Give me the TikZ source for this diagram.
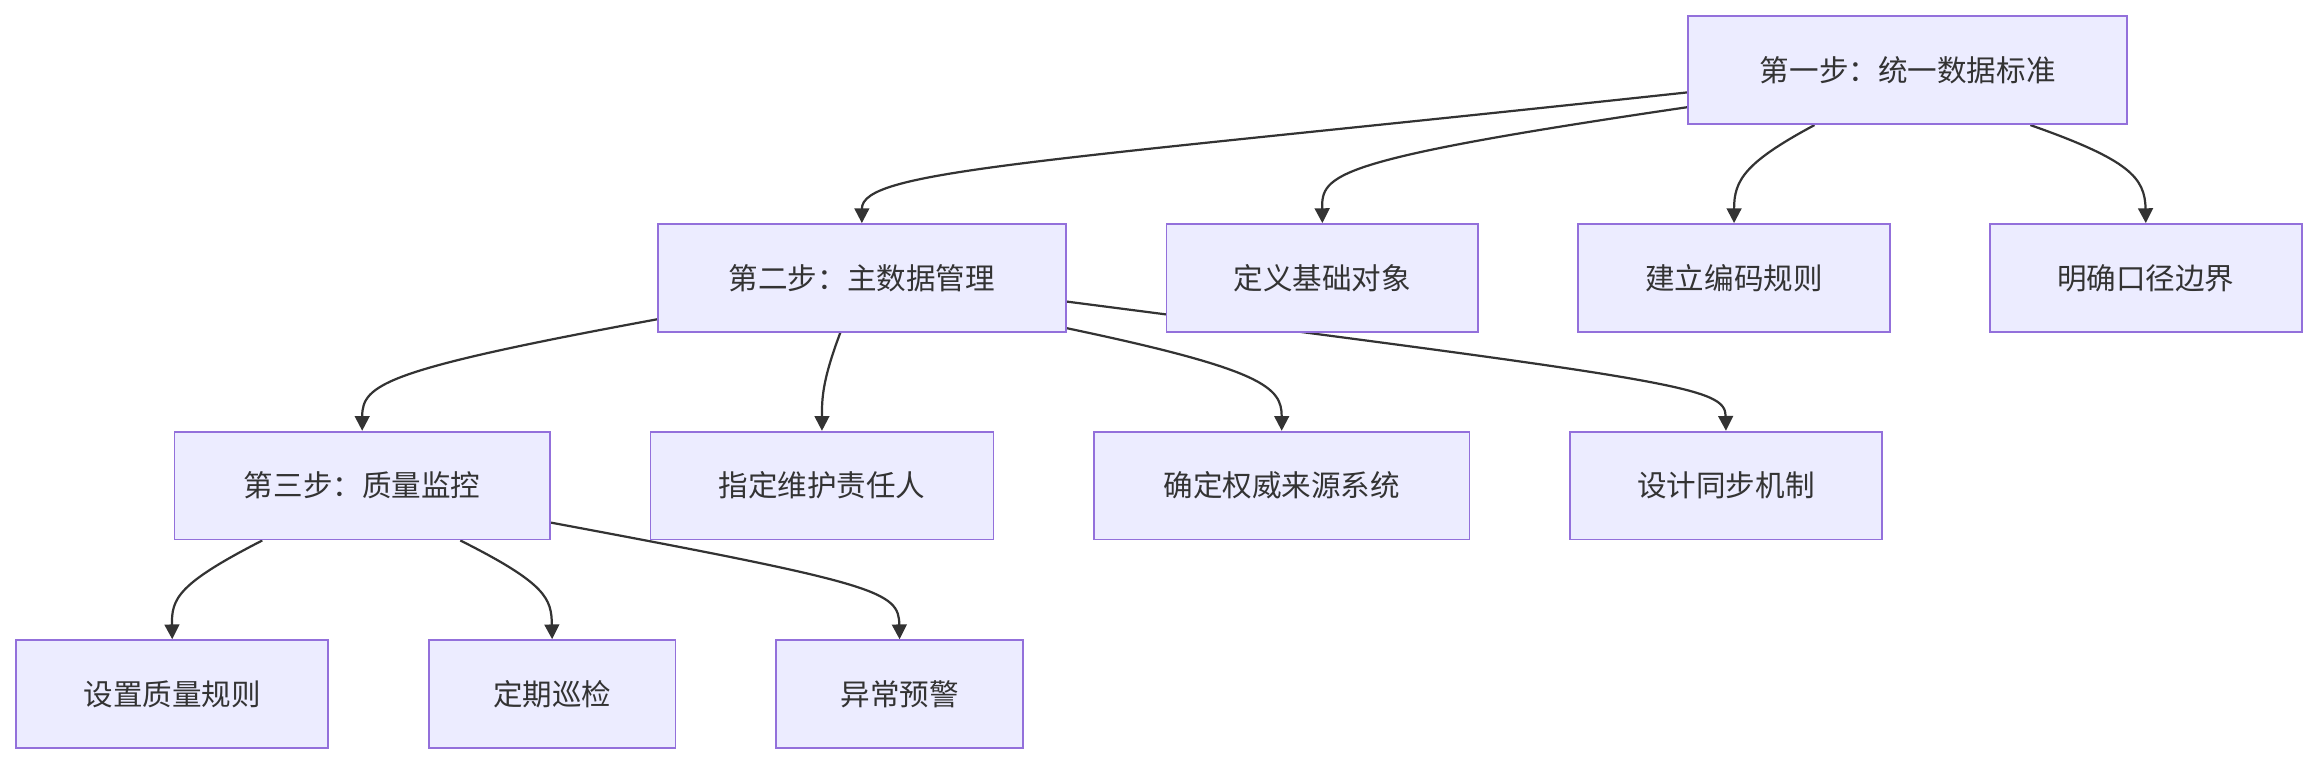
\documentclass[tikz,border=0pt]{standalone}
\usepackage{fontspec}
\newfontfamily\cjk{Noto Sans CJK SC}
\usetikzlibrary{arrows.meta,backgrounds}
\definecolor{nfill}{HTML}{ECECFF}
\definecolor{nline}{HTML}{9370DB}
\definecolor{eline}{HTML}{333333}
\tikzset{
  box/.style={draw=nline,fill=nfill,line width=1.2pt,minimum height=73pt,inner sep=0pt,
    font=\cjk\fontsize{20}{24}\selectfont,text=eline},
  edge/.style={draw=eline,line width=1.5pt,-{Triangle[length=10pt,width=10pt]}}
}
\begin{document}
\begin{tikzpicture}[x=1pt,y=-1pt]
\useasboundingbox (0,0) rectangle (1568,517);
\node[box,minimum width=297pt] (s1) at (1290.5,47.5) {第一步：统一数据标准};
\node[box,minimum width=276pt] (s2) at (583,188) {第二步：主数据管理};
\node[box,minimum width=211pt] (d1) at (894.5,188) {定义基础对象};
\node[box,minimum width=211pt] (d2) at (1173,188) {建立编码规则};
\node[box,minimum width=211pt] (d3) at (1451.5,188) {明确口径边界};
\node[box,minimum width=254pt] (s3) at (245,328.5) {第三步：质量监控};
\node[box,minimum width=232pt] (e1) at (556,328.5) {指定维护责任人};
\node[box,minimum width=254pt] (e2) at (867,328.5) {确定权威来源系统};
\node[box,minimum width=211pt] (e3) at (1167.5,328.5) {设计同步机制};
\node[box,minimum width=211pt] (f1) at (116.5,469.5) {设置质量规则};
\node[box,minimum width=167pt] (f2) at (373.5,469.5) {定期巡检};
\node[box,minimum width=167pt] (f3) at (608.5,469.5) {异常预警};
\begin{scope}[on background layer]
\draw[edge] ([yshift=-15]s1.west) .. controls (700,110) and (583,115) .. (s2.north);
\draw[edge] ([yshift=-25]s1.west) .. controls (900,108) and (894,118) .. (d1.north);
\draw[edge] ([xshift=86]s1.south west) .. controls (1180,110) and (1173,122) .. (d2.north);
\draw[edge] ([xshift=232]s1.south west) .. controls (1440,108) and (1451,120) .. (d3.north);
\draw[edge] ([yshift=-28]s2.west) .. controls (260,250) and (245,260) .. (s3.north);
\draw[edge] ([xshift=124]s2.south west) .. controls (556,258) and (556,270) .. (e1.north);
\draw[edge] ([yshift=-34]s2.east) .. controls (855,250) and (867,262) .. (e2.north);
\draw[edge] ([yshift=-16]s2.east) .. controls (1140,258) and (1167,262) .. (e3.north);
\draw[edge] ([xshift=60]s3.south west) .. controls (120,395) and (116,405) .. (f1.north);
\draw[edge] ([xshift=194]s3.south west) .. controls (370,395) and (373,405) .. (f2.north);
\draw[edge] ([yshift=-25]s3.east) .. controls (595,395) and (608,400) .. (f3.north);
\end{scope}
\end{tikzpicture}
\end{document}
